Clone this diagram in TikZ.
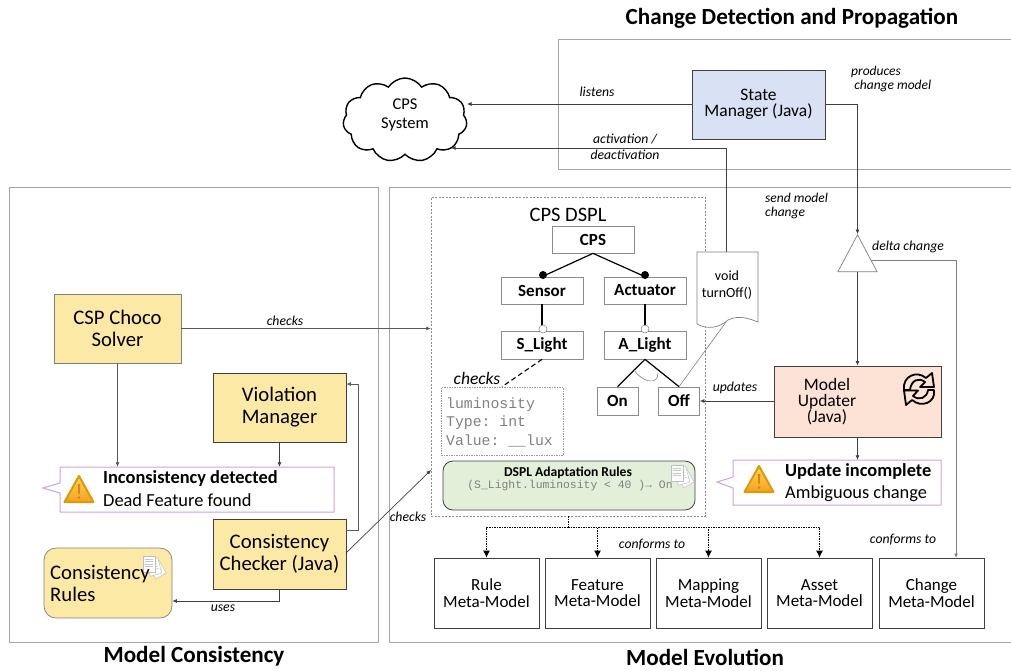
\documentclass[tikz,border=0pt]{standalone}
\usepackage{fontspec}
\setmainfont{Carlito}
\setmonofont{Liberation Mono}
\usetikzlibrary{arrows.meta,shapes.symbols,shapes.geometric,calc}
\definecolor{panelc}{HTML}{A6A6A6}
\definecolor{edgec}{HTML}{404040}
\definecolor{yel}{HTML}{FDE9A6}
\definecolor{blu}{HTML}{D9E1F4}
\definecolor{pch}{HTML}{FCE3D6}
\definecolor{grn}{HTML}{E2EFD9}
\definecolor{purp}{HTML}{C9A3E6}
\definecolor{fboxc}{HTML}{8C8C8C}
\definecolor{warnt}{HTML}{FFD75A}
\definecolor{warnb}{HTML}{F7A01E}
\definecolor{warne}{HTML}{DB9A0A}
\definecolor{warnm}{HTML}{D08A10}
\tikzset{
  panel/.style={draw=panelc,line width=.7pt},
  fbox/.style={draw=fboxc,line width=.7pt,fill=white,font=\fontsize{17}{18}\selectfont\bfseries,inner sep=0pt},
  ybox/.style={draw=edgec,line width=.9pt,fill=yel,align=center,font=\fontsize{20.7}{22}\selectfont,inner sep=0pt},
  meta/.style={draw=edgec,line width=.8pt,fill=white,align=center,font=\fontsize{17}{16.5}\selectfont,inner sep=0pt,minimum width=105,minimum height=70},
  conn/.style={draw=edgec,line width=.7pt,-{Latex[length=4.5pt,width=4pt]}},
  plain/.style={draw=edgec,line width=.7pt},
  dotc/.style={draw=black,line width=.9pt,dash pattern=on 1.5pt off 1pt,-{Latex[length=7pt,width=7pt]}},
  feat/.style={draw=black,line width=1.2pt},
  lbl/.style={font=\fontsize{13.7}{15}\selectfont\itshape,align=left,inner sep=0pt},
  title/.style={font=\fontsize{23.1}{25}\selectfont\bfseries,inner sep=0pt},
  callout/.style={draw=purp,line width=1pt,fill=white},
  ctext/.style={font=\fontsize{18.4}{22}\selectfont,align=left,inner sep=0pt,anchor=west},
  mono/.style={font=\ttfamily\fontsize{14.8}{18.5}\selectfont,text=gray,align=left,inner sep=0pt}
}
\newcommand{\warnicon}[2]{%
  \shade[top color=warnt,bottom color=warnb,draw=warne,line width=2pt,line join=round]
    ($(#1,#2)+(0,-14)$) -- ($(#1,#2)+(14.5,12)$) -- ($(#1,#2)+(-14.5,12)$) -- cycle;
  \fill[warnm] ($(#1,#2)+(-1.3,-6)$) -- ($(#1,#2)+(1.3,-6)$) -- ($(#1,#2)+(.7,4)$) -- ($(#1,#2)+(-.7,4)$) -- cycle;
  \fill[warnm] ($(#1,#2)+(0,7.5)$) circle (1.5);
}
\newcommand{\docsheet}[3]{%
  \begin{scope}[shift={(#1,#2)},rotate=#3]
    \draw[gray!50,line width=.5pt,fill=white] (-6,-8) rectangle (6,8);
    \foreach \q in {-5,-2.5,0,2.5}{\draw[gray!45,line width=.5pt] (-4,\q) -- (4,\q);}
  \end{scope}}
\newcommand{\docicon}[2]{%
  \docsheet{#1+5}{#2+3}{30}
  \docsheet{#1+2}{#2+1}{15}
  \docsheet{#1-3}{#2-2}{0}
}
\begin{document}
\begin{tikzpicture}[x=1pt,y=-1pt]
\useasboundingbox (0,0) rectangle (1011,670);
% panels
\draw[panel] (1012,39) -- (558,39) -- (558,169) -- (1012,169);
\draw[panel] (9,187) rectangle (378,642);
\draw[panel] (1012,187) -- (389,187) -- (389,642) -- (1012,642);
% titles
\node[title] (t1) at (792,18) {Change Detection and Propagation};
\node[title] (t2) at (194,656.5) {Model Consistency};
\node[title] (t3) at (705,657) {Model Evolution};
% cloud
\node[cloud,cloud puffs=11,cloud puff arc=115,aspect=1.5,draw=black,line width=1.4pt,minimum width=124,minimum height=84,inner sep=0pt,fill=white] (cloud) at (405,120) {};
\node[font=\fontsize{16.5}{19}\selectfont,align=center,inner sep=0pt] (cloudt) at (405,115) {CPS\\System};
% DSPL box
\node[draw=fboxc,dash pattern=on 2pt off 1.5pt,line width=.5pt,minimum width=274,minimum height=319,inner sep=0pt] (dspl) at (568,356.5) {};
\node[font=\fontsize{20.5}{21}\selectfont,inner sep=0pt] (dspltitle) at (568,215) {CPS DSPL};
% state manager
\node[draw=edgec,line width=.9pt,fill=blu,align=center,minimum width=133,minimum height=69,inner sep=0pt,font=\fontsize{17.5}{16.5}\selectfont] (state) at (758.5,104.5) {\raisebox{-1.5pt}{State}\\\raisebox{-1.5pt}{Manager (Java)}};
% feature model
\node[fbox,minimum width=82,minimum height=27] (cps) at (593,239.5) {CPS};
\node[fbox,minimum width=82,minimum height=27] (sensor) at (542,290.5) {Sensor};
\node[fbox,minimum width=82,minimum height=27] (actuator) at (645,290.5) {Actuator};
\node[fbox,minimum width=82,minimum height=28] (slight) at (542,345) {S\_Light};
\node[fbox,minimum width=82,minimum height=28] (alight) at (645,345) {A\_Light};
\node[fbox,minimum width=41,minimum height=28] (on) at (617.5,401) {On};
\node[fbox,minimum width=41,minimum height=28] (off) at (679,401) {Off};
\draw[feat] (cps.south) -- (sensor.north);
\draw[feat] (cps.south) -- (actuator.north);
\draw[feat] (sensor.south) -- (slight.north);
\draw[feat] (actuator.south) -- (alight.north);
\draw[feat] (alight.south) -- (on.north);
\draw[feat] (alight.south) -- (off.north);
\draw[draw=gray,line width=.6pt] (634,370) .. controls (642,382) and (658,386) .. (658,373);
\fill[black] (543,275) circle (4);
\fill[black] (645,275) circle (4);
\draw[gray,fill=white,line width=.5pt] (543,329) circle (4);
\draw[gray,fill=white,line width=.5pt] (645,329) circle (4);
% attribute box
\node[draw=gray!80,dash pattern=on 1.5pt off 1pt,line width=.6pt,minimum width=122,minimum height=68,inner sep=0pt] (attr) at (502,421) {};
\node[mono,anchor=west] (attrt) at (446,422) {luminosity\\Type: int\\Value: \_\_lux};
\draw[feat,line width=1.1pt,dash pattern=on 5pt off 3pt] (slight.south) -- (attr.north);
\node[font=\fontsize{17.5}{18}\selectfont\itshape,inner sep=0pt] (chk3) at (477,378) {checks};
% rules box
\node[draw=edgec,line width=.8pt,fill=grn,rounded corners=10pt,minimum width=252,minimum height=49,inner sep=0pt] (rules) at (569,485.5) {};
\node[font=\fontsize{13.6}{14}\selectfont\bfseries,inner sep=0pt] (rulest) at (568,473) {DSPL Adaptation Rules};
\docicon{680}{475}
\node[font=\ttfamily\fontsize{11.4}{13}\selectfont,text=gray,inner sep=0pt] (rulesc) at (570,486) {(S\_Light.luminosity < 40 )→ On};
% void document
\draw[draw=gray,line width=.6pt] (726,322) -- (off.north);
\draw[draw=edgec,line width=.8pt] (726,252) -- (726,148);
\path[draw=gray,fill=white,line width=.7pt] (697,252) -- (758,252) -- (758,322)
   .. controls (748,318) and (738,315) .. (728,320) .. controls (718,329) and (706,329) .. (697,324) -- cycle;
\coordinate (docn) at (726,252);
\node[font=\fontsize{14}{16.5}\selectfont,align=center,inner sep=0pt] (doct) at (727,285) {void\\turnOff()};
\coordinate (actcorner) at (726,148);
\coordinate (cloudin) at (451,148);
\draw[conn,line width=.9pt] (actcorner) -- (cloudin);
% triangle
\node[isosceles triangle,isosceles triangle apex angle=56,shape border rotate=90,draw=gray,fill=white,line width=.7pt,inner sep=0pt,minimum height=37,minimum width=38] (tri) at (857.5,260) {};
% model updater
\node[draw=edgec,line width=.8pt,fill=pch,minimum width=167,minimum height=71,inner sep=0pt] (upd) at (857.5,401.5) {};
\node[font=\fontsize{17.5}{16}\selectfont,align=center,inner sep=0pt] (updt) at (827,402) {Model\\Updater\\(Java)};
\begin{scope}[shift={(919,388)},line width=1.8pt,line cap=round,line join=round]
  \draw (-15,2) .. controls (-17,-12) and (-2,-18) .. (7,-10) -- (13,-15) -- (15,-1) -- (1,-1) -- (6,-6) .. controls (0,-11) and (-8,-8) .. (-9,2) -- cycle;
  \draw (15,2) .. controls (17,15) and (2,20) .. (-7,12) -- (-13,17) -- (-15,2.5) -- (-1,2.5) -- (-6,8) .. controls (0,13) and (8,10) .. (9,2) -- cycle;
\end{scope}
% callouts
\path[callout] (733,460) -- (941,460) -- (941,505) -- (733,505) -- (733,488) -- (717,482) -- (733,477) -- cycle;
\node[minimum width=208,minimum height=45,inner sep=0pt] (cupd) at (837,482.5) {};
\warnicon{759}{480}
\node[ctext] (cupd1) at (785,471.5) {\bfseries Update incomplete};
\node[ctext] (cupd2) at (785,493.5) {Ambiguous change};
\path[callout] (60,467) -- (334,467) -- (334,512) -- (60,512) -- (60,493) -- (43,488) -- (60,483) -- cycle;
\node[minimum width=274,minimum height=45,inner sep=0pt] (cinc) at (197,489.5) {};
\warnicon{79}{490}
\node[ctext] (cinc1) at (103,478) {\bfseries Inconsistency detected};
\node[ctext] (cinc2) at (103,500) {Dead Feature found};
% yellow boxes
\node[ybox,draw=gray,minimum width=127,minimum height=69] (csp) at (117.5,328.5) {CSP Choco\\Solver};
\node[ybox,minimum width=133,minimum height=69] (viol) at (279.5,407.5) {Violation\\Manager};
\node[ybox,minimum width=133,minimum height=70] (chk) at (279.5,554) {Consistency\\Checker (Java)};
\node[ybox,draw=gray,line width=.7pt,rounded corners=12pt,minimum width=128,minimum height=70] (crules) at (108,583) {};
\docicon{152}{566}
\node[font=\fontsize{20.7}{22}\selectfont,align=left,inner sep=0pt,anchor=west] (crulest) at (50,583.5) {Consistency\\Rules};
% meta-models
\node[meta] (m1) at (486.5,593) {Rule\\Meta-Model};
\node[meta] (m2) at (597.5,593) {Feature\\Meta-Model};
\node[meta] (m3) at (708.5,593) {Mapping\\Meta-Model};
\node[meta] (m4) at (819.5,593) {Asset\\Meta-Model};
\node[meta] (m5) at (931.5,593) {Change\\Meta-Model};
% connectors
\draw[conn] (state.west |- 0,104) -- (cloud.east |- 0,104);
\draw[conn] (state.east) -- (state.east -| tri.north) -- (tri.north);
\draw[conn] (tri.south) -- (upd.north -| tri.south);
\coordinate (triR) at (871,260);
\draw[conn,draw=gray,line width=.9pt] (triR) -- (956,260) -- (956,558);
\draw[conn] (upd.south -| tri.south) -- (cupd.north -| tri.south);
\draw[conn] (upd.west |- off.east) -- (off.east);
\draw[conn,draw=gray!70!black] (csp.east) -- (dspl.west |- csp.east);
\draw[conn,draw=gray!70!black] (csp.south) -- (csp.south |- cinc.north);
\draw[conn] (viol.south) -- (viol.south |- cinc.north);
\coordinate (chkb) at (358,530);
\draw[conn,draw=gray!70!black] (chk.east |- chkb) -- (chkb) -- (358,384) -- (viol.east |- 0,384);
\coordinate (chkr) at (346,553);
\coordinate (dsplin) at (431,470);
\draw[conn] (chkr) -- (dsplin);
\draw[conn] (chk.south) -- (279.5,601) -- (crules.east |- 0,601);
% dotted
\coordinate (dd) at (568,527);
\draw[line width=.9pt,dash pattern=on 1.5pt off 1pt] (dspl.south) -- (dd);
\draw[dotc] (dd) -- (m1.north |- dd) -- (m1.north);
\draw[dotc] (dd) -- (m2.north |- dd) -- (m2.north);
\draw[dotc] (dd) -- (m3.north |- dd) -- (m3.north);
\draw[dotc] (dd) -- (m4.north |- dd) -- (m4.north);
% labels
\node[lbl] (l1) at (597,92) {listens};
\node[lbl,align=center] (l2) at (625,147) {activation /\\[1pt]deactivation};
\node[lbl,anchor=north west,font=\fontsize{13.5}{13.5}\selectfont\itshape] (l3) at (851,66) {produces\\\ change model};
\node[lbl,anchor=north west,font=\fontsize{13.5}{13.5}\selectfont\itshape] (l4) at (765,193) {send model\\change};
\node[lbl,anchor=west] (l5) at (872,247) {delta change};
\node[lbl] (l6) at (735,388) {updates};
\node[lbl] (l7) at (652,545) {conforms to};
\node[lbl] (l8) at (903,540) {conforms to};
\node[lbl] (l9) at (285,321) {checks};
\node[lbl] (l10) at (408,517) {checks};
\node[lbl] (l11) at (223,608) {uses};
\end{tikzpicture}
\end{document}
